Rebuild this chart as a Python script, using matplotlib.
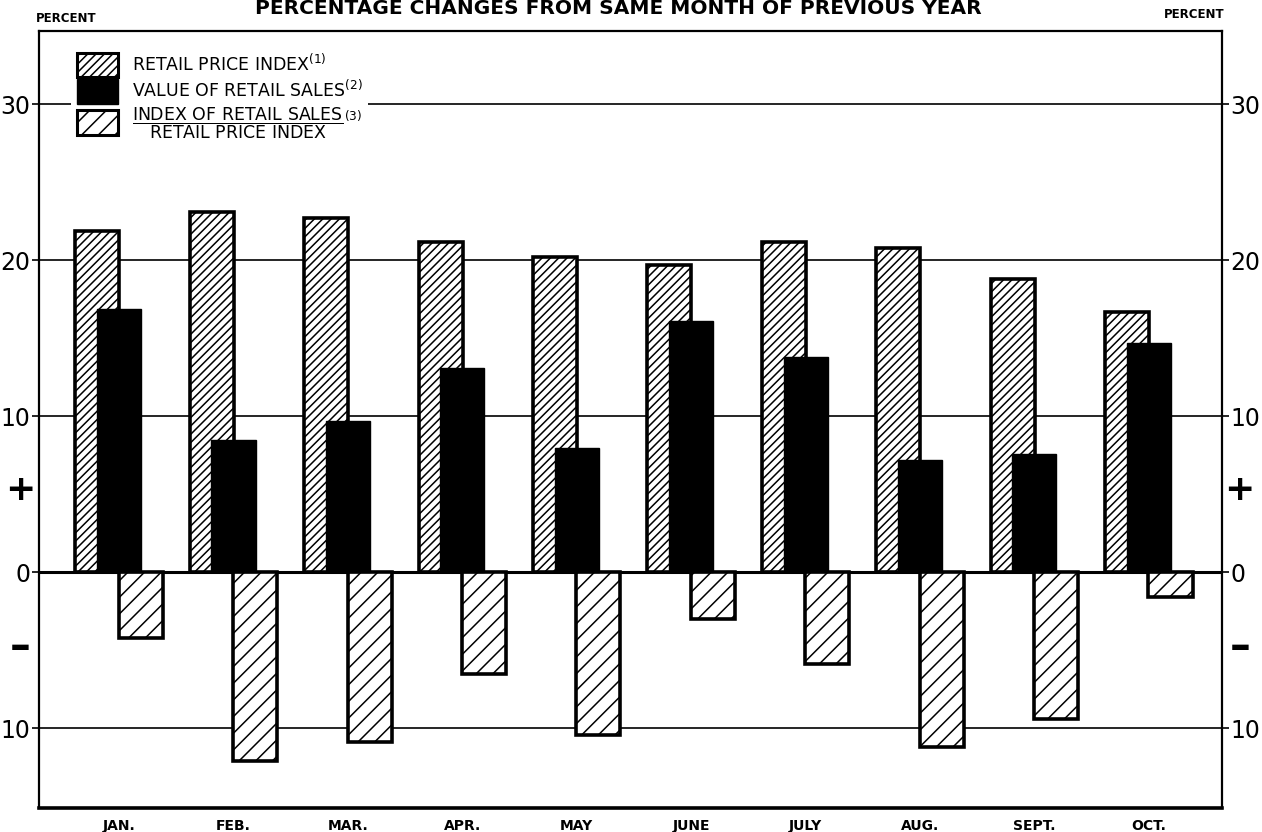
import numpy as np
import matplotlib.pyplot as plt
from matplotlib.patches import Patch
from matplotlib.transforms import blended_transform_factory

months = ["JAN.", "FEB.", "MAR.", "APR.", "MAY", "JUNE", "JULY", "AUG.", "SEPT.", "OCT."]
retail_price_index = [21.9, 23.1, 22.7, 21.2, 20.2, 19.7, 21.2, 20.8, 18.8, 16.7]
value_retail_sales = [16.9, 8.5, 9.7, 13.1, 8.0, 16.1, 13.8, 7.2, 7.6, 14.7]
deflated_sales = [-4.2, -12.1, -10.9, -6.5, -10.4, -3.0, -5.9, -11.2, -9.4, -1.6]

y_ticks = [30, 20, 10, 0, -10]
y_tick_labels = ["30", "20", "10", "0", "10"]

plt.rcParams["font.family"] = "DejaVu Sans"
plt.rcParams["hatch.linewidth"] = 1.1

fig = plt.figure(figsize=(12.62, 8.32), dpi=100)
ax = fig.add_axes([39 / 1262, 1 - 808 / 832, (1222 - 39) / 1262, (808 - 31) / 832])

x = np.arange(len(months))
w = 0.385
off = 0.19

# grid lines
for v in y_ticks:
    ax.axhline(v, color="black", lw=2.2 if v == 0 else 1.2, zorder=1)

ax.bar(x - off, retail_price_index, w, facecolor="white", edgecolor="black",
       hatch="////", lw=2.6, zorder=2)
ax.bar(x, value_retail_sales, w, facecolor="black", edgecolor="black", lw=1, zorder=3)
ax.bar(x + off, deflated_sales, w, facecolor="white", edgecolor="black",
       hatch="//", lw=2.6, zorder=2)

ax.set_xlim(-0.70, 9.64)
ax.set_ylim(-15.1, 34.7)

ax.set_yticks(y_ticks)
ax.set_yticklabels(y_tick_labels, fontsize=17)
ax.tick_params(axis="y", which="both", length=5, width=1.2, direction="out",
               left=True, right=True, labelleft=True, labelright=True, pad=1)
ax.set_xticks(x)
ax.set_xticklabels(months, fontsize=10, fontweight="bold")
ax.tick_params(axis="x", length=0, pad=8)

for side in ["left", "right", "top"]:
    ax.spines[side].set_linewidth(1.6)
ax.spines["bottom"].set_linewidth(2.6)

# plus / minus markers on both sides
tr = blended_transform_factory(ax.transAxes, ax.transData)
for xs in [-0.016, 1.015]:
    ax.text(xs, 5.3, "+", transform=tr, ha="center", va="center",
            fontsize=26, fontweight="bold", clip_on=False)
    ax.text(xs, -4.8, "\u2013", transform=tr, ha="center", va="center",
            fontsize=30, fontweight="heavy", clip_on=False)

handles = [
    Patch(facecolor="white", edgecolor="black", hatch="////", lw=2.2),
    Patch(facecolor="black", edgecolor="black"),
    Patch(facecolor="white", edgecolor="black", hatch="//", lw=2.2),
]
labels = [
    "RETAIL PRICE INDEX$^{(1)}$",
    "VALUE OF RETAIL SALES$^{(2)}$",
    r"$\dfrac{\mathrm{INDEX\ OF\ RETAIL\ SALES}}{\mathrm{RETAIL\ PRICE\ INDEX}}^{(3)}$",
]
leg = ax.legend(handles, labels, loc="upper left", bbox_to_anchor=(0.02, 0.99),
                fontsize=12.5, frameon=True, facecolor="white", edgecolor="none",
                framealpha=1, handlelength=2.4, handleheight=1.8,
                labelspacing=0.1, handletextpad=0.8, borderpad=0.3)
leg.set_zorder(5)

fig.text(0.49, 1 - 8 / 832, "PERCENTAGE CHANGES FROM SAME MONTH OF PREVIOUS YEAR",
         ha="center", va="center", fontsize=14.5, fontweight="bold")
fig.text(66 / 1262, 1 - 18 / 832, "PERCENT", ha="center", va="center",
         fontsize=8.5, fontweight="bold")
fig.text(1194 / 1262, 1 - 15 / 832, "PERCENT", ha="center", va="center",
         fontsize=8.5, fontweight="bold")

fig.savefig("out.png", dpi=100)
